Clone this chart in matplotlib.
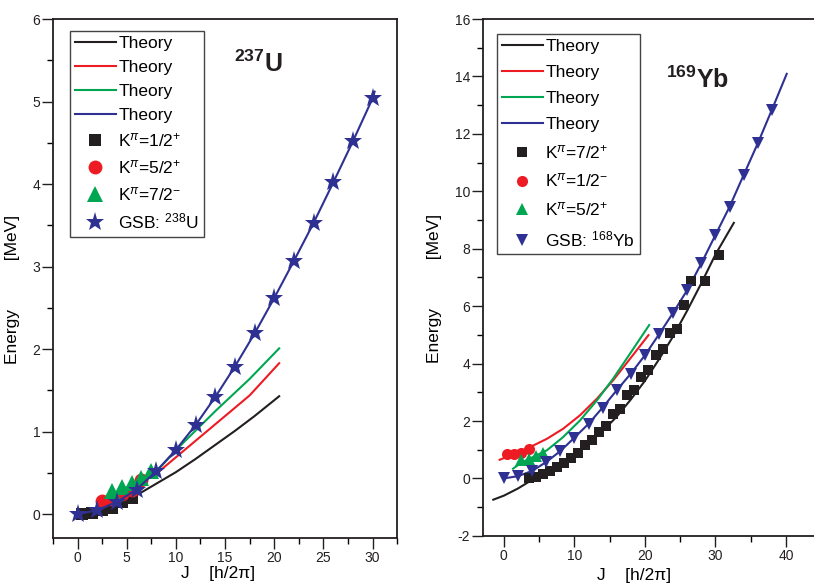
import numpy as np
import matplotlib
matplotlib.use("Agg")
import matplotlib.pyplot as plt
from matplotlib.lines import Line2D
from matplotlib.ticker import MultipleLocator

plt.rcParams["font.family"] = ["Liberation Sans", "DejaVu Sans"]
plt.rcParams["mathtext.fontset"] = "custom"
plt.rcParams["mathtext.rm"] = "Liberation Sans"
plt.rcParams["mathtext.it"] = "Liberation Sans:italic"
plt.rcParams["mathtext.bf"] = "Liberation Sans:bold"
plt.rcParams["axes.unicode_minus"] = False

# colours
BLACK = "#231f20"
RED = "#ed1c24"
GREEN = "#00a651"
BLUE = "#2e3192"

# ---- 237U (left panel) ----
u_th_black_J = [0.5, 2, 4, 6, 8, 10, 12, 14, 16, 18, 20.5]
u_th_black_E = [0.0, 0.04, 0.12, 0.23, 0.37, 0.51, 0.67, 0.84, 1.01, 1.19, 1.43]
u_th_red_J = [2.0, 3.3, 4.5, 6.0, 8.0, 10.7, 14.1, 17.5, 20.5]
u_th_red_E = [0.12, 0.2, 0.27, 0.37, 0.49, 0.76, 1.1, 1.44, 1.83]
u_th_green_J = [3.0, 4.5, 6.0, 7.5, 8.4, 10.7, 14.1, 17.5, 20.5]
u_th_green_E = [0.22, 0.3, 0.38, 0.5, 0.57, 0.86, 1.26, 1.64, 2.01]
u_th_blue_J = [0, 2, 4, 6, 8, 10, 12, 14, 16, 18, 20, 22, 24, 26, 28, 30, 30.2]
u_th_blue_E = [0.0, 0.05, 0.15, 0.3, 0.52, 0.78, 1.08, 1.42, 1.79, 2.19, 2.62,
               3.07, 3.53, 4.02, 4.52, 5.04, 5.12]

u_k12_J = [0.5, 1.5, 2.5, 3.5, 4.5, 5.5]
u_k12_E = [0.0, 0.01, 0.05, 0.08, 0.15, 0.2]
u_k52_J = [2.5, 3.5, 4.5, 5.5, 6.5]
u_k52_E = [0.16, 0.19, 0.24, 0.3, 0.42]
u_k72_J = [3.5, 4.5, 5.5, 6.5, 7.5]
u_k72_E = [0.28, 0.33, 0.38, 0.44, 0.52]
u_gsb_J = [0, 2, 4, 6, 8, 10, 12, 14, 16, 18, 20, 22, 24, 26, 28, 30]
u_gsb_E = [0.0, 0.05, 0.15, 0.3, 0.52, 0.78, 1.08, 1.42, 1.79, 2.19, 2.62,
           3.07, 3.53, 4.02, 4.52, 5.04]

# ---- 169Yb (right panel) ----
yb_th_black_J = [-1.5, 0, 2, 4, 6, 8, 10, 12, 14, 16, 18, 20, 22, 24, 26, 28, 30, 32.6]
yb_th_black_E = [-0.74, -0.6, -0.35, -0.05, 0.25, 0.55, 0.85, 1.22, 1.65, 2.15,
                 2.75, 3.4, 4.15, 4.95, 5.85, 6.8, 7.8, 8.9]
yb_th_red_J = [-0.6, 1.0, 3.7, 6.1, 8.4, 10.8, 13.2, 15.5, 17.9, 20.5]
yb_th_red_E = [0.65, 0.8, 1.09, 1.38, 1.73, 2.2, 2.78, 3.42, 4.17, 4.99]
yb_th_green_J = [1.3, 2.5, 4.0, 6.1, 8.4, 10.8, 13.2, 15.5, 17.9, 20.6]
yb_th_green_E = [0.34, 0.55, 0.73, 0.98, 1.44, 2.02, 2.72, 3.48, 4.35, 5.34]
yb_th_blue_J = [0, 2, 4, 6, 8, 10, 12, 14, 16, 18, 20, 22, 24, 26, 28, 30, 32,
                34, 36, 38, 40.1]
yb_th_blue_E = [0.0, 0.08, 0.26, 0.57, 0.95, 1.42, 1.9, 2.47, 3.07, 3.65, 4.29,
                5.02, 5.77, 6.56, 7.49, 8.48, 9.46, 10.57, 11.67, 12.84, 14.09]

yb_k72_J = [3.5, 4.5, 5.5, 6.5, 7.5, 8.5, 9.5, 10.5, 11.5, 12.5, 13.5, 14.5,
            15.5, 16.5, 17.5, 18.5, 19.5, 20.5, 21.5, 22.5, 23.5, 24.5, 25.5,
            26.5, 28.5, 30.5]
yb_k72_E = [0.0, 0.05, 0.16, 0.26, 0.4, 0.55, 0.72, 0.88, 1.15, 1.33, 1.62,
            1.83, 2.26, 2.43, 2.9, 3.07, 3.53, 3.77, 4.29, 4.52, 5.05, 5.22,
            6.03, 6.88, 6.88, 7.78]
yb_k12_J = [0.5, 1.5, 2.5, 3.5]
yb_k12_E = [0.84, 0.86, 0.9, 1.01]
yb_k52_J = [2.5, 3.5, 4.5, 5.5]
yb_k52_E = [0.63, 0.66, 0.77, 0.88]
yb_gsb_J = [0, 2, 4, 6, 8, 10, 12, 14, 16, 18, 20, 22, 24, 26, 28, 30, 32, 34, 36, 38]
yb_gsb_E = [0.0, 0.08, 0.26, 0.57, 0.95, 1.42, 1.9, 2.47, 3.07, 3.65, 4.29,
            5.02, 5.77, 6.56, 7.49, 8.48, 9.46, 10.57, 11.67, 12.84]


def style_axes(ax, xmaj, xmin, ymaj, ymin):
    ax.xaxis.set_major_locator(MultipleLocator(xmaj))
    ax.xaxis.set_minor_locator(MultipleLocator(xmin))
    ax.yaxis.set_major_locator(MultipleLocator(ymaj))
    ax.yaxis.set_minor_locator(MultipleLocator(ymin))
    ax.tick_params(which="major", direction="out", length=8, width=1,
                   labelsize=10, colors="#231f20", top=False, right=False)
    ax.tick_params(which="minor", direction="out", length=4, width=1,
                   top=False, right=False)
    ax.tick_params(axis="x", which="major", pad=1.5)
    ax.tick_params(axis="y", which="major", pad=1)
    for s in ax.spines.values():
        s.set_linewidth(1.3)
        s.set_color("#231f20")


def add_legend(ax, labels, markers, msizes, anchor, spacing):
    handles = [Line2D([], [], color=c, lw=1.5) for c in (BLACK, RED, GREEN, BLUE)]
    for c, m, ms in zip((BLACK, RED, GREEN, BLUE), markers, msizes):
        handles.append(Line2D([], [], ls="none", marker=m, color=c,
                              markersize=ms, markeredgewidth=0))
    leg = ax.legend(handles, ["Theory"] * 4 + labels, loc="upper left",
                    bbox_to_anchor=anchor, borderaxespad=0, fontsize=12.5,
                    labelspacing=spacing, handlelength=2.35, handletextpad=0.15,
                    borderpad=0.3, fancybox=False, numpoints=1,
                    edgecolor="#444444", framealpha=1)
    leg.get_frame().set_linewidth(1.0)


fig = plt.figure(figsize=(8.14, 5.85), dpi=100)
ax1 = fig.add_axes([0.065, 0.080, 0.423, 0.8875])
ax2 = fig.add_axes([0.593, 0.084, 0.409, 0.8835])

# left panel
ax1.plot(u_th_black_J, u_th_black_E, color=BLACK, lw=1.5)
ax1.plot(u_th_red_J, u_th_red_E, color=RED, lw=1.5)
ax1.plot(u_th_green_J, u_th_green_E, color=GREEN, lw=1.5)
ax1.plot(u_k12_J, u_k12_E, "s", color=BLACK, ms=9, mew=0)
ax1.plot(u_k52_J, u_k52_E, "o", color=RED, ms=10, mew=0)
ax1.plot(u_k72_J, u_k72_E, "^", color=GREEN, ms=11, mew=0)
ax1.plot(u_th_blue_J, u_th_blue_E, color=BLUE, lw=1.5)
ax1.plot(u_gsb_J, u_gsb_E, "*", color=BLUE, ms=14, mew=0)
ax1.set_xlim(-2.5, 32.5)
ax1.set_ylim(-0.29, 6)
style_axes(ax1, 5, 2.5, 1, 0.5)
add_legend(ax1, [r"K$^{\pi}$=1/2$^{+}$", r"K$^{\pi}$=5/2$^{+}$",
                 r"K$^{\pi}$=7/2$^{-}$", r"GSB: $^{238}$U"],
           ["s", "o", "^", "*"], [9, 10, 11, 14], (0.049, 0.977), 0.5)
ax1.text(0.525, 0.897, r"$\mathbf{^{237}U}$", transform=ax1.transAxes,
         fontsize=18, ha="left", va="baseline", color=BLACK)
ax1.set_ylabel("Energy          [MeV]", fontsize=12.5)
ax1.yaxis.set_label_coords(-0.096, 0.48)
ax1.set_xlabel("J    [h/2π]", fontsize=12.5)
ax1.xaxis.set_label_coords(0.48, -0.054)

# right panel
ax2.plot(yb_th_black_J, yb_th_black_E, color=BLACK, lw=1.5)
ax2.plot(yb_th_red_J, yb_th_red_E, color=RED, lw=1.5)
ax2.plot(yb_th_green_J, yb_th_green_E, color=GREEN, lw=1.5)
ax2.plot(yb_th_blue_J, yb_th_blue_E, color=BLUE, lw=1.5)
ax2.plot(yb_k72_J, yb_k72_E, "s", color=BLACK, ms=7.5, mew=0)
ax2.plot(yb_k12_J, yb_k12_E, "o", color=RED, ms=8, mew=0)
ax2.plot(yb_k52_J, yb_k52_E, "^", color=GREEN, ms=9, mew=0)
ax2.plot(yb_gsb_J, yb_gsb_E, "v", color=BLUE, ms=9, mew=0)
ax2.set_xlim(-3, 44.2)
ax2.set_ylim(-2, 16)
style_axes(ax2, 10, 5, 2, 1)
add_legend(ax2, [r"K$^{\pi}$=7/2$^{+}$", r"K$^{\pi}$=1/2$^{-}$",
                 r"K$^{\pi}$=5/2$^{+}$", r"GSB: $^{168}$Yb"],
           ["s", "o", "^", "v"], [7.5, 8, 9, 9], (0.042, 0.971), 0.62)
ax2.text(0.552, 0.867, r"$\mathbf{^{169}Yb}$", transform=ax2.transAxes,
         fontsize=18, ha="left", va="baseline", color=BLACK)
ax2.set_ylabel("Energy          [MeV]", fontsize=12.5)
ax2.yaxis.set_label_coords(-0.121, 0.478)
ax2.set_xlabel("J    [h/2π]", fontsize=12.5)
ax2.xaxis.set_label_coords(0.455, -0.062)

fig.savefig("out.png", dpi=100)
